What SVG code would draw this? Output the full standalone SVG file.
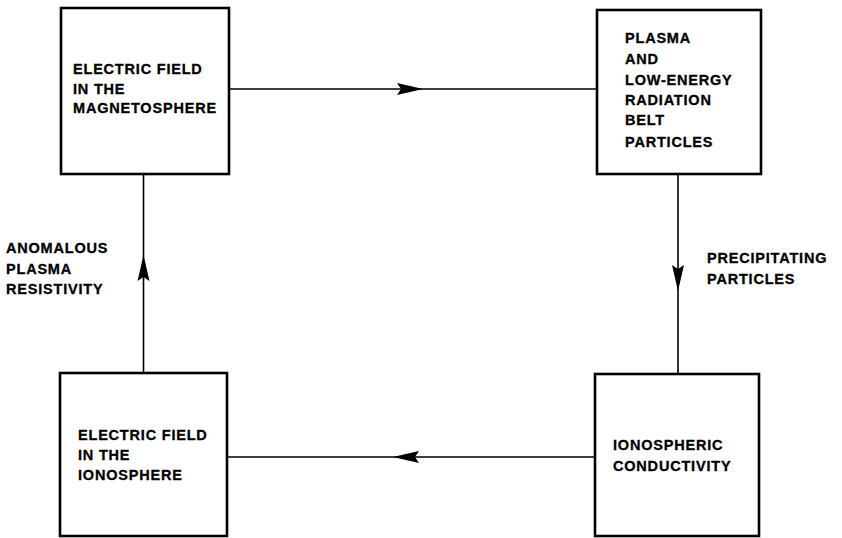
<svg xmlns="http://www.w3.org/2000/svg" width="842" height="538" viewBox="0 0 842 538">
<style>
.box{fill:#fff;stroke:#000;stroke-width:2.6}
.t{font-family:"Liberation Sans",Arial,Helvetica,sans-serif;font-weight:bold;font-size:14.5px;letter-spacing:0.8px;fill:#000;stroke:#000;stroke-width:0.3}
.c{fill:none;stroke:#000;stroke-width:1.6;marker-mid:url(#ah)}
</style>
<defs>
<marker id="ah" markerUnits="userSpaceOnUse" viewBox="-27 -7 28 14" refX="0" refY="0" markerWidth="28" markerHeight="14" orient="auto">
<path d="M0,0 L-26,-6 L-22,0 L-26,6 Z" fill="#000"/>
</marker>
</defs>
<rect width="842" height="538" fill="#fff"/>
<g id="connectors">
<path class="c" d="M229,89 L423,89 L597,89"/>
<path class="c" d="M678,174 L678,291 L678,374"/>
<path class="c" d="M595,457 L393,457 L227,457"/>
<path class="c" d="M143.5,373 L143.5,255 L143.5,174"/>
</g>
<g id="n1">
<rect class="box" x="61" y="8" width="168" height="166"/>
<text class="t" x="73" y="74">ELECTRIC FIELD</text>
<text class="t" x="73" y="93.5">IN THE</text>
<text class="t" x="73" y="113">MAGNETOSPHERE</text>
</g>
<g id="n2">
<rect class="box" x="597" y="10" width="164" height="164"/>
<text class="t" x="625" y="43">PLASMA</text>
<text class="t" x="625" y="64">AND</text>
<text class="t" x="625" y="85">LOW-ENERGY</text>
<text class="t" x="625" y="105">RADIATION</text>
<text class="t" x="625" y="125">BELT</text>
<text class="t" x="625" y="147">PARTICLES</text>
</g>
<g id="n3">
<rect class="box" x="60" y="373" width="167" height="163"/>
<text class="t" x="78" y="440">ELECTRIC FIELD</text>
<text class="t" x="78" y="460">IN THE</text>
<text class="t" x="78" y="480">IONOSPHERE</text>
</g>
<g id="n4">
<rect class="box" x="595" y="374" width="164" height="162"/>
<text class="t" x="613" y="450">IONOSPHERIC</text>
<text class="t" x="613" y="471">CONDUCTIVITY</text>
</g>
<g id="labels">
<text class="t" x="6" y="253">ANOMALOUS</text>
<text class="t" x="6" y="274">PLASMA</text>
<text class="t" x="6" y="294">RESISTIVITY</text>
<text class="t" x="707" y="263">PRECIPITATING</text>
<text class="t" x="707" y="284">PARTICLES</text>
</g>
</svg>
